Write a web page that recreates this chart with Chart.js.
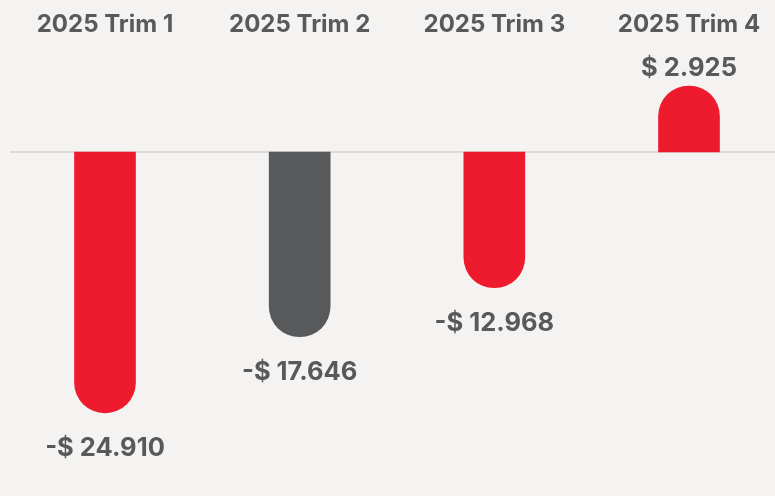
<!DOCTYPE html>
<html>
<head>
<meta charset="utf-8">
<script src="https://cdn.jsdelivr.net/npm/chart.js@4.4.1/dist/chart.umd.min.js"></script>
<style>
  html, body { margin: 0; padding: 0; background: #f4f3f1; }
  #wrap { width: 775px; height: 496px; position: relative; }
</style>
</head>
<body>
<div id="wrap"><canvas id="c" width="775" height="496"></canvas></div>
<script>
const categories = ['2025 Trim 1', '2025 Trim 2', '2025 Trim 3', '2025 Trim 4'];
const values = [-24910, -17646, -12968, 2925];
const valueLabels = ['-$ 24.910', '-$ 17.646', '-$ 12.968', '$ 2.925'];
const barColors = ['#ee1b2f', '#58595b', '#ee1b2f', '#ee1b2f'];

const TEXT = '#58595b';
const FONT = 'Inter, Roboto, "Noto Sans", sans-serif';

const labelsPlugin = {
  id: 'labelsPlugin',
  beforeDatasetsDraw(chart) {
    const ctx = chart.ctx;
    const y0 = chart.scales.y.getPixelForValue(0);
    ctx.save();
    ctx.strokeStyle = '#dcdbd9';
    ctx.lineWidth = 2;
    ctx.beginPath();
    ctx.moveTo(10, y0);
    ctx.lineTo(chart.width, y0);
    ctx.stroke();
    ctx.restore();
  },
  afterDraw(chart) {
    const ctx = chart.ctx;
    const xs = chart.scales.x;
    const meta = chart.getDatasetMeta(0);
    ctx.save();
    ctx.fillStyle = TEXT;
    ctx.textAlign = 'center';
    ctx.textBaseline = 'alphabetic';
    ctx.font = 'bold 24px ' + FONT;
    categories.forEach((c, i) => {
      ctx.fillText(c, xs.getPixelForValue(i), 32);
    });
    ctx.font = 'bold 25.5px ' + FONT;
    meta.data.forEach((bar, i) => {
      const v = values[i];
      const y = v < 0 ? bar.y + 43 : bar.y - 10;
      ctx.fillText(valueLabels[i], bar.x, y);
    });
    ctx.restore();
  }
};

new Chart(document.getElementById('c'), {
  type: 'bar',
  data: {
    labels: categories,
    datasets: [{
      data: values,
      backgroundColor: barColors,
      borderWidth: 0,
      borderRadius: 31,
      borderSkipped: 'start',
      barThickness: 61,
      minBarLength: 66,
      clip: false
    }]
  },
  options: {
    responsive: false,
    animation: false,
    devicePixelRatio: 1,
    layout: { padding: { left: 105, right: 86, top: 99.6, bottom: 29.9 } },
    plugins: { legend: { display: false }, tooltip: { enabled: false } },
    scales: {
      x: { display: false, offset: false },
      y: { display: false, min: -30000, max: 5000 }
    }
  },
  plugins: [labelsPlugin]
});
</script>
</body>
</html>
